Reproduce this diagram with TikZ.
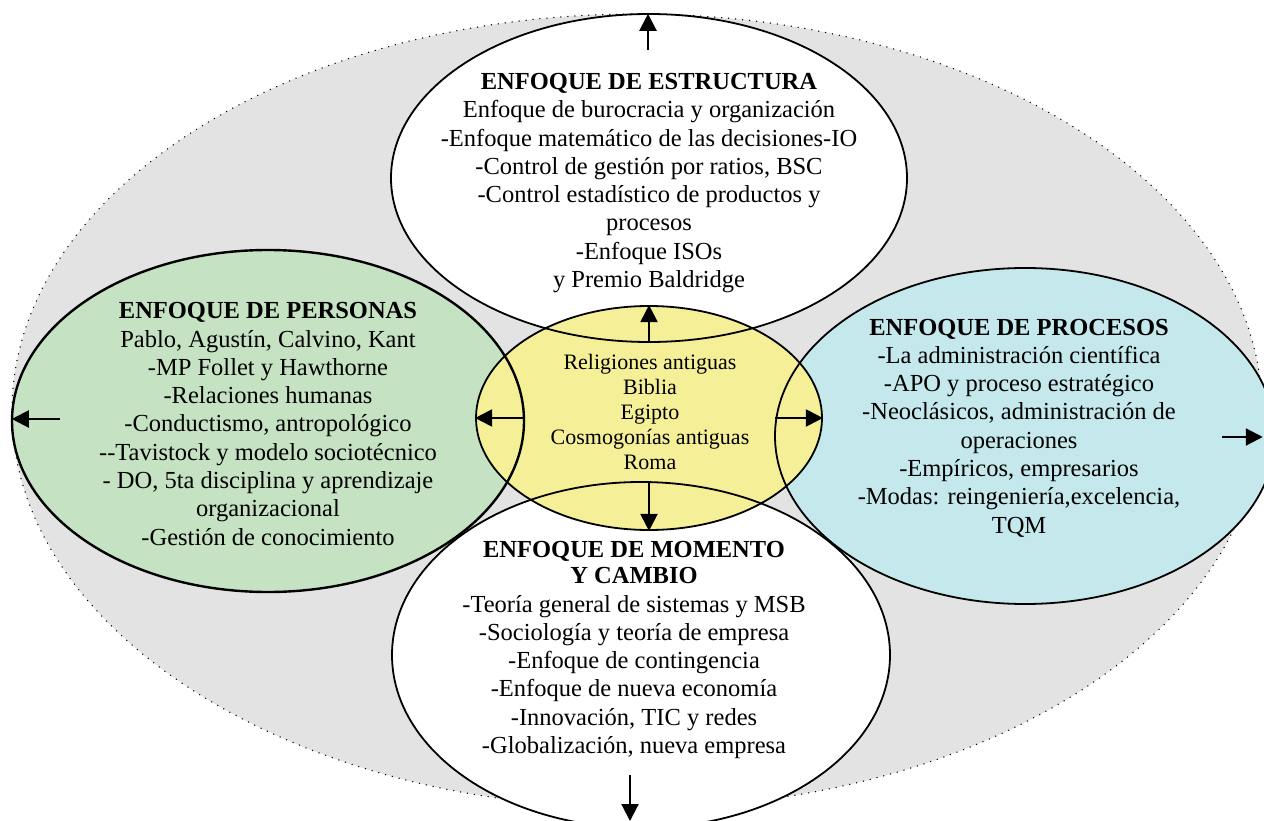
\documentclass[tikz,border=0pt]{standalone}
\usepackage{fontspec}
\setmainfont{Liberation Serif}
\usetikzlibrary{shapes.geometric,arrows.meta}
\definecolor{fondo}{RGB}{227,227,227}
\definecolor{verde}{RGB}{197,226,194}
\definecolor{celeste}{RGB}{196,232,236}
\definecolor{amarillo}{RGB}{245,240,152}
\begin{document}
\begin{tikzpicture}[x=1pt,y=-1pt,
  elip/.style={ellipse, inner sep=0pt},
  borde/.style={line width=1.8pt},
  txt/.style={align=center, font=\fontsize{24.5}{28.3}\selectfont, inner sep=0pt},
  txtc/.style={align=center, font=\fontsize{22}{25}\selectfont, inner sep=0pt},
  flecha/.style={line width=2.2pt, -{Triangle[length=17pt,width=17pt]}}]
\useasboundingbox (0,0) rectangle (1264,821);
% outer frame
\node[elip, fill=fondo, draw, line width=1.5pt, dash pattern=on 0pt off 7pt, line cap=round,
      minimum width=1250pt, minimum height=794pt] (marco) at (637,411) {};
% fills of the four approaches
\node[elip, fill=white, minimum width=516pt, minimum height=328pt] (estructura) at (649,178) {};
\node[elip, fill=white, minimum width=498pt, minimum height=346pt] (momento) at (641,655) {};
\node[elip, fill=verde, minimum width=512pt, minimum height=342pt] (personas) at (268,421) {};
\node[elip, fill=celeste, minimum width=500pt, minimum height=336pt] (procesos) at (1025,436) {};
% centre
\node[elip, fill=amarillo, draw, borde, minimum width=346pt, minimum height=224pt] (centro) at (649,418) {};
% outlines over the centre
\draw[borde] (estructura.center) ellipse [x radius=258pt, y radius=164pt];
\draw[borde] (momento.center) ellipse [x radius=249pt, y radius=173pt];
\draw[line width=2.4pt] (personas.center) ellipse [x radius=256pt, y radius=171pt];
\draw[borde] (procesos.center) ellipse [x radius=250pt, y radius=168pt];
% texts
\node[txt] (tEst) at (649,183) {\textbf{ENFOQUE DE ESTRUCTURA}\\Enfoque de burocracia y organización\\-Enfoque matemático de las decisiones-IO\\-Control de gestión por ratios, BSC\\-Control estadístico de productos y\\procesos\\-Enfoque ISOs\\y Premio Baldridge};
\node[txt] (tPer) at (268,424) {\textbf{ENFOQUE DE PERSONAS}\\Pablo, Agustín, Calvino, Kant\\-MP Follet y Hawthorne\\-Relaciones humanas\\-Conductismo, antropológico\\-{}-Tavistock y modelo sociotécnico\\- DO, 5ta disciplina y aprendizaje\\organizacional\\-Gestión de conocimiento};
\node[txt] (tPro) at (1019,428) {\textbf{ENFOQUE DE PROCESOS}\\-La administración científica\\-APO y proceso estratégico\\-Neoclásicos, administración de\\operaciones\\-Empíricos, empresarios\\-Modas: reingeniería,excelencia,\\TQM};
\node[txt] (tMom) at (634,650) {\textbf{ENFOQUE DE MOMENTO}\\[-2pt]\textbf{Y CAMBIO}\\-Teoría general de sistemas y MSB\\-Sociología y teoría de empresa\\-Enfoque de contingencia\\-Enfoque de nueva economía\\-Innovación, TIC y redes\\-Globalización, nueva empresa};
\node[txtc] (tCen) at (650,412) {Religiones antiguas\\Biblia\\Egipto\\Cosmogonías antiguas\\Roma};
% arrows
\coordinate (aTop) at (648,50);
\draw[flecha] (aTop) -- (aTop |- estructura.north);
\draw[flecha] (estructura.south) -- (centro.north);
\draw[flecha] (personas.east |- centro.west) -- (centro.west);
\draw[flecha] (procesos.west |- centro.east) -- (centro.east);
\draw[flecha] (centro.south |- momento.north) -- (centro.south);
\coordinate (aIzq) at (60,419);
\draw[flecha] (aIzq) -- (aIzq -| personas.west);
\coordinate (aDer) at (1222,437);
\draw[flecha] (aDer) -- (aDer -| marco.east);
\coordinate (aAba) at (630,775);
\coordinate (aAbaF) at (630,821);
\draw[flecha] (aAba) -- (aAbaF);
\end{tikzpicture}
\end{document}
